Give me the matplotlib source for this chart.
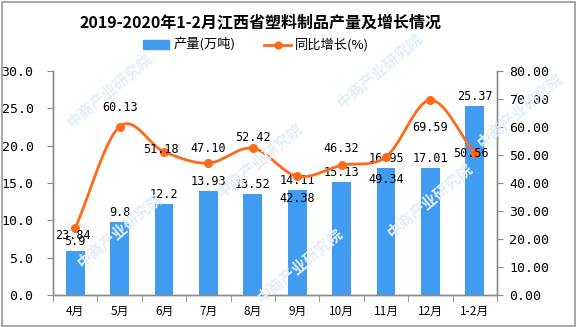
import numpy as np
import matplotlib
matplotlib.use("Agg")
import matplotlib.pyplot as plt
from matplotlib.patches import Rectangle
from matplotlib.lines import Line2D

plt.rcParams['font.family'] = ['Noto Sans CJK SC', 'DejaVu Sans']

# Monthly output and year-on-year growth
months = ["4月", "5月", "6月", "7月", "8月", "9月", "10月", "11月", "12月", "1-2月"]
output = [5.9, 9.8, 12.2, 13.93, 13.52, 14.11, 15.13, 16.95, 17.01, 25.37]
output_labels = ["5.9", "9.8", "12.2", "13.93", "13.52", "14.11", "15.13", "16.95", "17.01", "25.37"]
growth = [23.84, 60.13, 51.18, 47.10, 52.42, 42.38, 46.32, 49.34, 69.59, 50.56]
growth_labels = ["23.84", "60.13", "51.18", "47.10", "52.42", "42.38", "46.32", "49.34", "69.59", "50.56"]

left_ticks = [0, 5, 10, 15, 20, 25, 30]
right_ticks = [0, 10, 20, 30, 40, 50, 60, 70, 80]

BLUE = "#3f9cf0"
ORANGE = "#ff6a1a"
AXIS = "#8c8c8c"

# vertical offsets (pixels) of growth labels relative to their points
growth_dy = [-7, 19, 2, 15, 11, -22, 17, -23, -27, 0]
growth_dx = [-2, 0, -3, 0, 0, 0, 0, 0, 0, -4]


def smooth(xs, ys, n=30):
    """Catmull-Rom curve through the points, for a rounded line."""
    xs = np.asarray(xs, float)
    ys = np.asarray(ys, float)
    px = np.concatenate([[2 * xs[0] - xs[1]], xs, [2 * xs[-1] - xs[-2]]])
    py = np.concatenate([[2 * ys[0] - ys[1]], ys, [2 * ys[-1] - ys[-2]]])
    ox, oy = [], []
    for i in range(1, len(px) - 2):
        t = np.linspace(0, 1, n, endpoint=False)
        for p, out in ((px, ox), (py, oy)):
            p0, p1, p2, p3 = p[i - 1], p[i], p[i + 1], p[i + 2]
            out.extend(0.5 * (2 * p1 + (-p0 + p2) * t
                              + (2 * p0 - 5 * p1 + 4 * p2 - p3) * t ** 2
                              + (-p0 + 3 * p1 - 3 * p2 + p3) * t ** 3))
    ox.append(xs[-1])
    oy.append(ys[-1])
    return np.array(ox), np.array(oy)


W, H = 577, 327
fig = plt.figure(figsize=(W / 100, H / 100), dpi=100)
fig.patch.set_facecolor("white")

# outer frame
fig.add_artist(Rectangle((2 / W, 1 / H), (W - 4) / W, (H - 3) / H,
                         transform=fig.transFigure, fill=False,
                         edgecolor="#9a9a9a", linewidth=1.2))

# faint watermark
for (wx, wy) in [(110, 90), (120, 230), (260, 160), (300, 265), (430, 200), (520, 110), (380, 70)]:
    fig.text(wx / W, 1 - wy / H, "中商产业研究院", rotation=40, fontsize=11,
             color="#e4eef7", ha="center", va="center", fontweight="bold", zorder=0)

ax = fig.add_axes([53 / W, (H - 295) / H, (497 - 53) / W, (295 - 71) / H])
ax.set_facecolor("none")
ax2 = ax.twinx()

x = np.arange(len(months))
ax.bar(x, output, width=0.42, color=BLUE, zorder=2)
ax.set_xlim(-0.5, len(months) - 0.5)
ax.set_ylim(0, 30)
ax.set_yticks(left_ticks)
ax.set_yticklabels([f"{v:.1f}" for v in left_ticks], family="DejaVu Sans Mono", fontsize=9.5)
ax.set_xticks(x)
ax.set_xticklabels(months, fontsize=8.5)
ax.set_xticks(np.arange(len(months) + 1) - 0.5, minor=True)
ax.tick_params(axis="x", which="major", length=0, pad=7)
ax.tick_params(axis="x", which="minor", length=5, color=AXIS, direction="out")
ax.tick_params(axis="y", length=4, color=AXIS, pad=10)

for xi, v, lab in zip(x, output, output_labels):
    ax.annotate(lab, (xi, v), xytext=(0, 3), textcoords="offset pixels",
                ha="center", va="bottom", fontsize=8.5, family="DejaVu Sans Mono", zorder=5)

lx, ly = smooth(x, growth)
ax2.plot(lx, ly, color=ORANGE, linewidth=2.0, zorder=3)
ax2.plot(x, growth, "o", color=ORANGE, markersize=5.5, zorder=4)
ax2.set_ylim(0, 80)
ax2.set_yticks(right_ticks)
ax2.set_yticklabels([f"{v:.2f}" for v in right_ticks], family="DejaVu Sans Mono", fontsize=9.5)
ax2.tick_params(axis="y", length=4, color=AXIS, pad=5)

for xi, v, lab, dy, dx in zip(x, growth, growth_labels, growth_dy, growth_dx):
    ax2.annotate(lab, (xi, v), xytext=(dx, dy), textcoords="offset pixels",
                 ha="center", va="center", fontsize=8.5, family="DejaVu Sans Mono", zorder=5)

for a in (ax, ax2):
    a.spines["top"].set_visible(False)
    for s in ("left", "right", "bottom"):
        a.spines[s].set_color(AXIS)
        a.spines[s].set_linewidth(1.0)

fig.text(261 / W, 1 - 22 / H, "2019-2020年1-2月江西省塑料制品产量及增长情况",
         ha="center", va="center", fontsize=11.5, fontweight="bold")

# legend
legend_handles = [Rectangle((0, 0), 1, 1, color=BLUE),
                  Line2D([0], [0], color=ORANGE, linewidth=2, marker="o", markersize=5)]
fig.legend(legend_handles, ["产量(万吨)", "同比增长(%)"], loc="center",
           bbox_to_anchor=(256 / W, 1 - 45 / H), ncol=2, frameon=False,
           fontsize=9.5, handlelength=2.0, handleheight=0.6, columnspacing=2.2,
           handletextpad=0.3)

fig.savefig("out.png", dpi=100)
